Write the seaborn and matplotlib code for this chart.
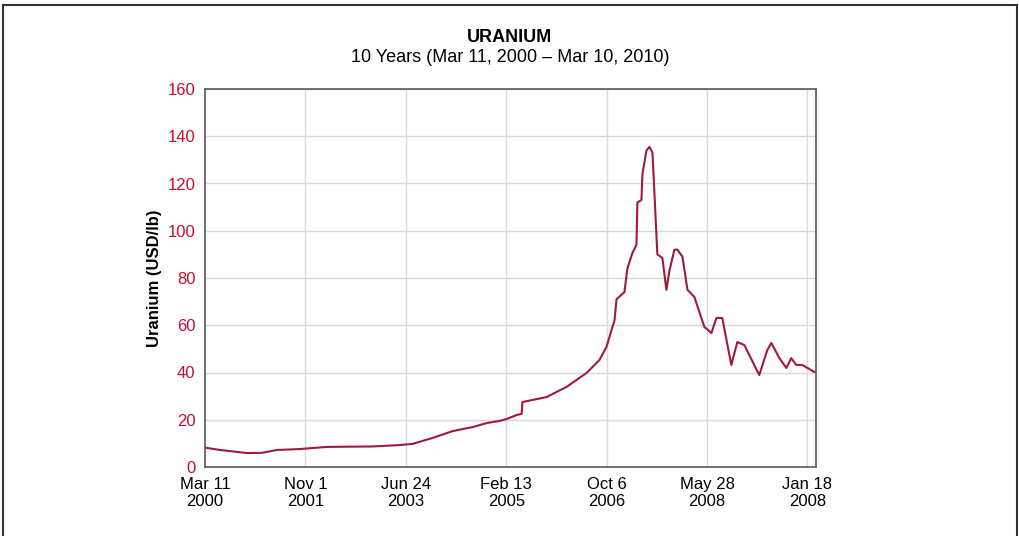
import numpy as np
import pandas as pd
import matplotlib
matplotlib.use('Agg')
import matplotlib.pyplot as plt
from matplotlib.patches import Rectangle
import seaborn as sns

# uranium spot price
dates = ['2000-03-11', '2000-06-09', '2000-11-17', '2001-02-14', '2001-05-15',
         '2001-09-29', '2002-03-09', '2002-12-09', '2003-05-19', '2003-08-05',
         '2003-12-01', '2004-03-30', '2004-07-27', '2004-10-19', '2005-01-04',
         '2005-02-15', '2005-04-16', '2005-05-16', '2005-05-21', '2005-10-12',
         '2006-02-08', '2006-06-08', '2006-08-24', '2006-10-05', '2006-11-04',
         '2006-11-22', '2006-12-04', '2007-01-20', '2007-02-07', '2007-03-09',
         '2007-04-02', '2007-04-08', '2007-05-02', '2007-05-08', '2007-06-01',
         '2007-06-19', '2007-07-07', '2007-08-05', '2007-09-04', '2007-09-28',
         '2007-10-16', '2007-11-15', '2007-12-03', '2008-01-02', '2008-02-01',
         '2008-03-13', '2008-05-12', '2008-06-23', '2008-07-23', '2008-08-27',
         '2008-10-20', '2008-11-25', '2009-01-06', '2009-04-05', '2009-05-23',
         '2009-06-16', '2009-08-03', '2009-09-14', '2009-10-13', '2009-11-12',
         '2009-12-18', '2010-02-28', '2010-03-10']
prices = [8.2, 7.2, 5.9, 6.0, 7.2,
          7.6, 8.5, 8.7, 9.3, 9.8,
          12.3, 15.2, 16.9, 18.6, 19.5,
          20.3, 22.0, 22.5, 27.5, 29.6,
          33.9, 39.8, 45.3, 50.8, 58.0,
          62.0, 71.0, 74.0, 84.0, 90.6,
          94.0, 112.0, 113.0, 124.0, 134.0,
          135.5, 133.0, 90.0, 88.5, 75.0,
          83.0, 92.0, 92.0, 89.0, 75.0,
          72.0, 59.3, 56.7, 63.1, 63.1,
          43.2, 52.9, 51.6, 38.9, 49.5,
          52.5, 46.1, 41.9, 46.1, 43.2,
          43.2, 40.2, 40.5]

tick_dates = ['2000-03-11', '2001-11-01', '2003-06-24', '2005-02-13',
              '2006-10-06', '2008-05-28', '2010-01-18']
tick_labels = ['Mar 11\n2000', 'Nov 1\n2001', 'Jun 24\n2003', 'Feb 13\n2005',
               'Oct 6\n2006', 'May 28\n2008', 'Jan 18\n2008']
y_ticks = [0, 20, 40, 60, 80, 100, 120, 140, 160]

df = pd.DataFrame({'date': pd.to_datetime(dates), 'price': prices})

sns.set_style('white')
plt.rcParams['font.family'] = ['Liberation Sans', 'DejaVu Sans']
plt.rcParams['text.color'] = 'black'
plt.rcParams['axes.labelcolor'] = 'black'

fig = plt.figure(figsize=(10.2, 5.36), dpi=100)
ax = fig.add_axes([205 / 1020, 1 - 467 / 536, 611 / 1020, 378 / 536])

sns.lineplot(data=df, x='date', y='price', ax=ax, color='#9e1b3c', linewidth=1.5)

ax.set_xlim(pd.Timestamp('2000-03-11'), pd.Timestamp('2010-03-10'))
ax.set_ylim(0, 160)
ax.set_xticks(pd.to_datetime(tick_dates))
ax.set_xticklabels(tick_labels, fontsize=12, color='black', linespacing=1.15)
ax.set_yticks(y_ticks)
ax.set_yticklabels([str(v) for v in y_ticks], fontsize=12, color='#c8102e')
ax.tick_params(axis='both', direction='out', length=4, width=1, color='#555555', pad=3)
ax.grid(True, color='#d9d9d9', linewidth=1)
for side in ['left', 'right', 'top', 'bottom']:
    ax.spines[side].set_color('#666666')
    ax.spines[side].set_linewidth(1.3)
ax.set_xlabel('')
ax.set_ylabel('Uranium (USD/lb)', fontsize=12, fontweight='bold', labelpad=4)

fig.text(0.5, 1 - 38 / 536, 'URANIUM', ha='center', va='center',
         fontsize=13, fontweight='bold')
fig.text(0.5, 1 - 58 / 536, '10 Years (Mar 11, 2000 \u2013 Mar 10, 2010)',
         ha='center', va='center', fontsize=13)

# outer frame around the figure (open at the bottom)
fig.patches.append(Rectangle((3 / 1020, -0.05), 1014 / 1020, 1.05 - 5 / 536,
                             transform=fig.transFigure, fill=False,
                             edgecolor='#333333', linewidth=1.5))

fig.savefig('out.png', dpi=100)
